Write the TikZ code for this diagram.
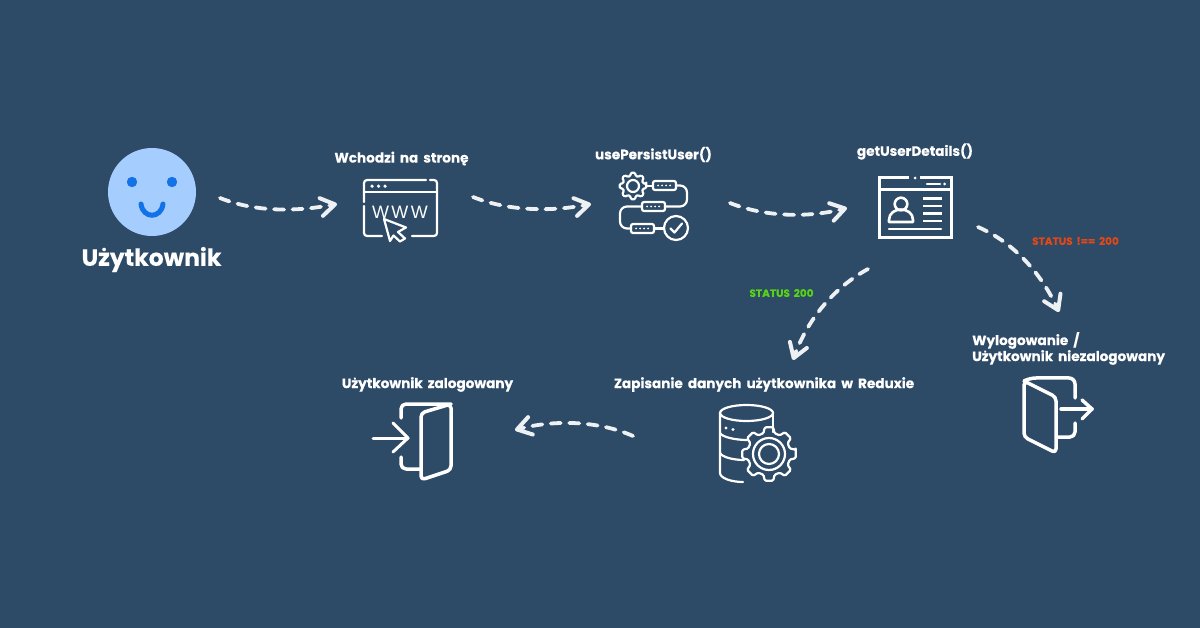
\documentclass[tikz,border=0pt]{standalone}
\usepackage{fontspec}
\setmainfont{Poppins}[WordSpace=1.75,BoldFeatures={FakeBold=0.25}]
\newfontfamily\iconfont{Liberation Sans}
\usetikzlibrary{arrows.meta,calc}
\definecolor{bgc}{HTML}{2D4A66}
\definecolor{arrowc}{HTML}{EEF1F4}
\definecolor{facec}{HTML}{A5CEFF}
\definecolor{eyec}{HTML}{1272E6}
\definecolor{okc}{HTML}{58D418}
\definecolor{errc}{HTML}{E0481A}
\tikzset{
  flow/.style={draw=arrowc,line width=3.8pt,line cap=round,dash pattern=on 10pt off 8.5pt,
    -{Straight Barb[length=14pt,width=18pt,line width=4pt,round]}},
  lbl/.style={inner sep=0pt,text=white,font=\bfseries\fontsize{13.6}{17}\selectfont},
  statuslbl/.style={inner sep=0pt,font=\bfseries\fontsize{10.5}{12}\selectfont},
  ico/.style={draw=white,line width=2.2pt,line cap=round,line join=round},
  icob/.style={draw=white,line width=3pt,line cap=butt,line join=miter},
  door/.style={draw=white,line width=3.5pt,line cap=round,line join=round},
}
\newcommand{\gearshape}[6]{% cx cy rOut rIn halfout halfin
  \draw[ico,rounded corners=1.2pt] ($(#1,#2)+(-#5:#3)$)
    \foreach \a in {0,45,...,315}{
      -- ($(#1,#2)+(\a-#5:#3)$) -- ($(#1,#2)+(\a+#5:#3)$)
      -- ($(#1,#2)+(\a+#6:#4)$) -- ($(#1,#2)+(\a+45-#6:#4)$)
    } -- cycle;}
\begin{document}
\begin{tikzpicture}[x=1pt,y=-1pt]
\useasboundingbox (0,0) rectangle (1200,628);
\fill[bgc] (0,0) rectangle (1200,628);

% face
\fill[facec] (152,192) circle (44);
\fill[eyec] (132,182) circle (5.2);
\fill[eyec] (172,182) circle (5.2);
\draw[eyec,line width=5pt,line cap=round] (141,204) .. controls (143,219) and (161,219) .. (163,204);
\node[inner sep=0pt,text=white,font=\bfseries\fontsize{23.5}{26}\selectfont,anchor=center] (user) at (151.5,259.5) {Użytkownik};

% labels
\node[lbl] (lwchodzi) at (401.5,158.5) {Wchodzi na stronę};
\node[lbl] (lpersist) at (653.5,154.5) {usePersistUser()};
\node[lbl] (ldetails) at (915,151.5) {getUserDetails()};
\node[lbl,anchor=west] (lwylog) at (972,340.5) {Wylogowanie /};
\node[lbl,anchor=west] (lniezal) at (972,357.5) {Użytkownik niezalogowany};
\node[lbl] (lredux) at (764,384.5) {Zapisanie danych użytkownika w Reduxie};
\node[lbl] (lzal) at (427.5,384.5) {Użytkownik zalogowany};
\node[statuslbl,text=okc] (s200) at (781.5,293) {STATUS 200};
\node[statuslbl,text=errc] (sno) at (1075.5,241) {STATUS !== 200};

% connector ends
\coordinate (a1s) at (220,198); \coordinate (a1e) at (337,204);
\coordinate (a2s) at (473,197); \coordinate (a2e) at (591,204);
\coordinate (a3s) at (730,203); \coordinate (a3e) at (847,208);
\coordinate (a4s) at (868,269); \coordinate (a4e) at (793,360);
\coordinate (a5s) at (978,227); \coordinate (a5e) at (1059,312);
\coordinate (a6s) at (633,436); \coordinate (a6e) at (515,430);

\draw[flow] (a1s) .. controls (255,212) and (295,212) .. (a1e);
\draw[flow] (a2s) .. controls (508,211) and (550,212) .. (a2e);
\draw[flow] (a3s) .. controls (765,217) and (808,218) .. (a3e);
\draw[flow] (a4s) .. controls (835,287) and (808,318) .. (a4e);
\draw[flow] (a5s) .. controls (1015,243) and (1042,275) .. (a5e);
\draw[flow] (a6s) .. controls (597,420) and (552,420) .. (a6e);

% browser icon
\draw[ico,rounded corners=3pt] (426,180) -- (364,180) -- (364,202);
\draw[ico] (430,180) -- (434,180) arc (-90:0:3) -- (437,233) arc (0:90:3) -- (412,236);
\draw[ico] (364,206) -- (364,233) arc (180:90:3) -- (382,236);
\draw[ico] (364,192) -- (437,192);
\fill[white] (372,186.2) circle (1.8) (378.5,186.2) circle (1.8) (385,186.2) circle (1.8);
\node[inner sep=0pt,text=white,font=\iconfont\fontsize{18}{18}\selectfont] (www) at (400,212) {W\hspace{2.5pt}W\hspace{2.5pt}W};
\draw[ico,fill=bgc] (384,219) -- (406,227.5) -- (398,232) -- (405,238.5) -- (400,241.5) -- (393.5,235.5) -- (390,241) -- cycle;

% process icon
\gearshape{633}{186}{13.5}{10.5}{9}{14}
\draw[ico] (633,186) circle (6);
\draw[ico,rounded corners=2pt] (653,181) rectangle (676,190);
\draw[ico,rounded corners=2pt] (642,202) rectangle (665,211);
\draw[ico,rounded corners=2pt] (631,224) rectangle (654,233);
\draw[ico] (647,186) -- (653,186);
\draw[ico,rounded corners=7pt] (676,185.5) -- (687,185.5) -- (687,206.5) -- (665,206.5);
\draw[ico,rounded corners=7pt] (642,206.5) -- (620,206.5) -- (620,228.5) -- (631,228.5);
\draw[ico] (654,228.5) -- (664,228.5);
\draw[ico] (676,228) circle (12);
\draw[ico] (670.5,228.5) -- (674.5,232.5) -- (682,223.5);
\foreach \x in {658,662,666,670}{\fill[white] (\x,185.5) circle (1);}
\foreach \x in {647,651,655,659}{\fill[white] (\x,206.5) circle (1);}
\foreach \x in {636,640,644,648}{\fill[white] (\x,228.5) circle (1);}

% profile icon
\draw[icob] (909,178) -- (879,178) -- (879,238) -- (951,238) -- (951,178) -- (920,178);
\fill[white] (915,178) circle (1.5);
\draw[icob] (879,190) -- (951,190);
\draw[icob,line cap=round,line width=2.5pt] (927,184) -- (940,184);
\fill[white] (944.5,184) circle (1.5);
\draw[ico,line width=2.6pt] (901,204) circle (6.3);
\draw[ico,line width=2.6pt] (889,222) -- (889,220) .. controls (889,206) and (913,206) .. (913,220) -- (913,222) -- cycle;
\foreach \y in {198.5,206,213.5,221}{\draw[icob,line width=2.5pt] (923,\y) -- (942,\y);}
\draw[icob,line width=2.5pt,line cap=round] (889,229) -- (941,229);

% exit door
\draw[door,rounded corners=4pt] (1024,381) -- (1056,397) -- (1056,453) -- (1024,437) -- cycle;
\draw[door,rounded corners=6pt] (1075,398) -- (1075,378) -- (1030,378) -- (1024,381);
\draw[door,rounded corners=5pt] (1057,437) -- (1075,437) -- (1075,423);
\draw[door] (1061,409) -- (1092,409);
\draw[door] (1082,400) -- (1092,409) -- (1082,419);

% enter door
\draw[door,rounded corners=4pt] (421,413) -- (451,404) -- (451,470) -- (421,480) -- cycle;
\draw[door,rounded corners=5pt] (401,418) -- (401,404) -- (451,404);
\draw[door,rounded corners=5pt] (401,457) -- (401,469) -- (420,469);
\draw[door,line width=3pt] (373,438) -- (408,438);
\draw[door,line width=3pt] (393,423) -- (408,438) -- (393,452);

% database icon
\draw[ico] (746.5,413) ellipse (26.5 and 8);
\draw[ico] (720,413) -- (720,473) .. controls (720,478) and (731,482) .. (743,482);
\draw[ico] (773,413) -- (773,432);
\draw[ico] (720,433) .. controls (722,437) and (735,440) .. (747,440);
\draw[ico] (720,453) .. controls (722,457) and (733,460) .. (744,460);
\fill[white] (726,428) circle (1.6) (733,429.5) circle (1.6);
\gearshape{769}{454}{27}{21.5}{9}{15}
\draw[ico] (769,454) circle (16);
\draw[ico] (769,454) circle (10);
\end{tikzpicture}
\end{document}
